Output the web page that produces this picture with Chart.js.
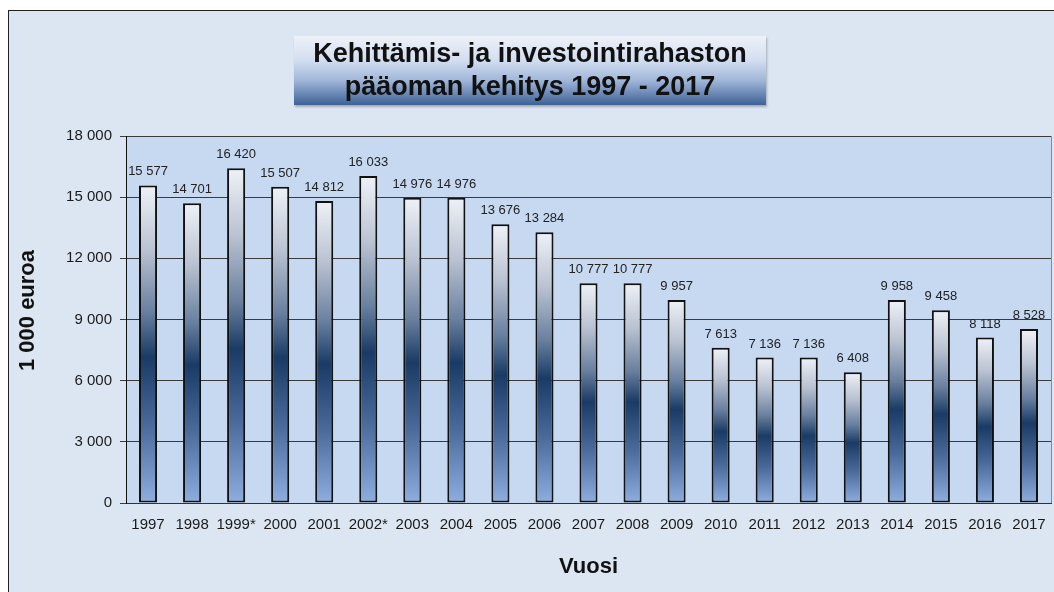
<!DOCTYPE html>
<html>
<head>
<meta charset="utf-8">
<script src="https://cdn.jsdelivr.net/npm/chart.js@4/dist/chart.umd.min.js"></script>
<style>
  html, body { margin: 0; padding: 0; background: #ffffff; }
  body { width: 1054px; height: 592px; overflow: hidden; position: relative; font-family: "Liberation Sans", Arial, sans-serif; }
  #frame {
    position: absolute; left: 8px; top: 10px; width: 1060px; height: 600px;
    border-left: 1px solid #222; border-top: 1px solid #222;
    background: #dce6f2;
  }
  #wrap { position: absolute; left: 0; top: 0; width: 1045px; height: 581px; }
  #title {
    position: absolute; left: 285px; top: 25px; width: 472px; height: 69px;
    background: linear-gradient(to bottom, #eef2f9 0%, #d3def0 35%, #9fb5d8 65%, #3d6196 100%);
    box-shadow: 1px 2px 2px rgba(60,60,60,0.35);
    text-align: center; font-weight: bold; font-size: 27px; line-height: 33px;
    color: #111; padding-top: 1px; box-sizing: border-box; white-space: nowrap;
  }
</style>
</head>
<body>
<div id="frame">
  <div id="wrap"><canvas id="chart" width="1045" height="581"></canvas></div>
  <div id="title">Kehittämis- ja investointirahaston<br>pääoman kehitys 1997 - 2017</div>
</div>
<script>
// data
const years = ['1997', '1998', '1999*', '2000', '2001', '2002*', '2003', '2004', '2005', '2006',
    '2007', '2008', '2009', '2010', '2011', '2012', '2013', '2014', '2015', '2016', '2017'];
const capital = [15577, 14701, 16420, 15507, 14812, 16033, 14976, 14976, 13676, 13284,
    10777, 10777, 9957, 7613, 7136, 7136, 6408, 9958, 9458, 8118, 8528];
const yTicks = [0, 3000, 6000, 9000, 12000, 15000, 18000];
const yTitle = '1 000 euroa';

function fmt(v) {
    return String(v).replace(/\B(?=(\d{3})+(?!\d))/g, ' ');
}

// gradient for each bar, from its top down to the base
function barFill(context) {
    const chart = context.chart;
    const area = chart.chartArea;
    if (!area || context.type !== 'data') return '#1b3a63';
    const y = chart.scales.y;
    const top = y.getPixelForValue(context.raw);
    const base = y.getPixelForValue(0);
    const g = chart.ctx.createLinearGradient(0, top, 0, base);
    g.addColorStop(0, '#eef1f7');
    g.addColorStop(0.2, '#bac3d2');
    g.addColorStop(0.4, '#687f9e');
    g.addColorStop(0.54, '#1a3b65');
    g.addColorStop(0.76, '#4b6b9b');
    g.addColorStop(1, '#8eaee0');
    return g;
}

const plotBg = {
    id: 'plotBg',
    beforeDraw(chart) {
        const a = chart.chartArea;
        const ctx = chart.ctx;
        ctx.save();
        ctx.fillStyle = '#c6d9f0';
        ctx.fillRect(a.left, a.top, a.right - a.left, a.bottom - a.top);
        ctx.strokeStyle = '#8a8a8a';
        ctx.lineWidth = 1;
        ctx.beginPath();
        ctx.moveTo(a.right + 0.5, a.top);
        ctx.lineTo(a.right + 0.5, a.bottom);
        ctx.stroke();
        ctx.restore();
    },
    afterDraw(chart) {
        // y axis title, sitting a little above the middle of the plot as in the original
        const a = chart.chartArea;
        const ctx = chart.ctx;
        ctx.save();
        ctx.translate(19, (a.top + a.bottom) / 2 - 9);
        ctx.rotate(-Math.PI / 2);
        ctx.font = 'bold 22px "Liberation Sans", Arial, sans-serif';
        ctx.fillStyle = '#111';
        ctx.textAlign = 'center';
        ctx.textBaseline = 'middle';
        ctx.fillText(yTitle, 0, 0);
        ctx.restore();
    }
};

const valueLabels = {
    id: 'valueLabels',
    afterDatasetsDraw(chart) {
        const ctx = chart.ctx;
        const meta = chart.getDatasetMeta(0);
        ctx.save();
        ctx.font = '13px "Liberation Sans", Arial, sans-serif';
        ctx.fillStyle = '#222';
        ctx.textAlign = 'center';
        ctx.textBaseline = 'bottom';
        meta.data.forEach(function (bar, i) {
            ctx.fillText(fmt(capital[i]), bar.x, bar.y - 7);
        });
        ctx.restore();
    }
};

new Chart(document.getElementById('chart').getContext('2d'), {
    type: 'bar',
    data: {
        labels: years,
        datasets: [{
            data: capital,
            backgroundColor: barFill,
            borderColor: '#111',
            borderWidth: 2,
            borderSkipped: false,
            barPercentage: 0.41,
            categoryPercentage: 1.0
        }]
    },
    options: {
        responsive: false,
        animation: false,
        layout: { padding: { top: 125, right: 3, left: 0, bottom: 0 } },
        plugins: {
            legend: { display: false },
            title: { display: false },
            tooltip: { enabled: false }
        },
        scales: {
            x: {
                grid: { display: false },
                border: { display: true, color: '#333', width: 1 },
                ticks: {
                    color: '#1a1a1a',
                    font: { family: '"Liberation Sans", Arial, sans-serif', size: 15 },
                    padding: 5,
                    maxRotation: 0,
                    autoSkip: false
                },
                title: {
                    display: true,
                    text: 'Vuosi',
                    color: '#111',
                    font: { family: '"Liberation Sans", Arial, sans-serif', size: 22, weight: 'bold' },
                    padding: { top: 0, bottom: 12 }
                },
                afterFit(scale) { scale.height = 89; }
            },
            y: {
                min: 0,
                max: 18000,
                afterBuildTicks(scale) { scale.ticks = yTicks.map(v => ({ value: v })); },
                grid: { color: '#3a3a3a', lineWidth: 1, tickLength: 6 },
                border: { display: true, color: '#111', width: 1 },
                ticks: {
                    color: '#1a1a1a',
                    font: { family: '"Liberation Sans", Arial, sans-serif', size: 15 },
                    padding: 8,
                    callback: v => fmt(v)
                },
                afterFit(scale) { scale.width = 117; }
            }
        }
    },
    plugins: [plotBg, valueLabels]
});
</script>
</body>
</html>
